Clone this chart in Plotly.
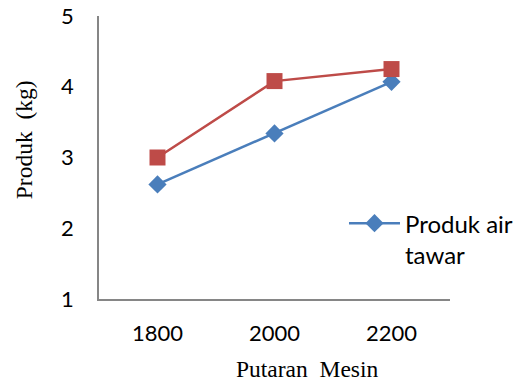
import plotly.graph_objects as go

# Engine speed categories and measured product (kg)
putaran = ["1800", "2000", "2200"]
produk_air_tawar = [2.62, 3.34, 4.07]
produk_kedua = [3.00, 4.08, 4.25]
y_ticks = [1, 2, 3, 4, 5]

BLUE = "#4A7EBB"
RED = "#BE4B48"
AXIS = "#868686"
TICK_FONT = dict(family="Lato", size=22, color="#000000")
LEGEND_FONT = dict(family="Lato", size=24, color="#000000")
TITLE_FONT = dict(family="Liberation Serif", size=23.5, color="#000000")

fig = go.Figure()

fig.add_trace(go.Scatter(
    x=putaran, y=produk_air_tawar, mode="lines+markers",
    name="Produk air<br>tawar",
    line=dict(color=BLUE, width=2.5),
    marker=dict(symbol="diamond", size=14, color=BLUE),
))
fig.add_trace(go.Scatter(
    x=putaran, y=produk_kedua, mode="lines+markers",
    showlegend=False,
    line=dict(color=RED, width=2.5),
    marker=dict(symbol="square", size=16, color=RED),
))

fig.update_layout(
    width=529, height=383,
    margin=dict(l=99, r=78, t=16, b=84),
    paper_bgcolor="white", plot_bgcolor="white",
    xaxis=dict(
        type="category", range=[-0.5, 2.5], automargin=False,
        showline=True, linecolor=AXIS, linewidth=1.5,
        showgrid=False, zeroline=False, ticks="",
        tickfont=TICK_FONT, ticklabelstandoff=14,
    ),
    yaxis=dict(
        range=[1, 5], tickvals=y_ticks, automargin=False,
        showline=True, linecolor=AXIS, linewidth=1.5,
        showgrid=False, zeroline=False, ticks="",
        tickfont=TICK_FONT, ticklabelstandoff=19,
    ),
    legend=dict(
        x=0.696, y=0.346, xanchor="left", yanchor="top",
        font=LEGEND_FONT, valign="top", bgcolor="rgba(0,0,0,0)",
        itemwidth=51, tracegroupgap=0,
    ),
    annotations=[
        dict(text="Putaran  Mesin", xref="paper", yref="paper",
             x=(308 - 99) / 352, y=-(369 - 299) / 283,
             xanchor="center", yanchor="middle", showarrow=False,
             font=TITLE_FONT),
        dict(text="Produk  (kg)", xref="paper", yref="paper",
             x=-(99 - 24) / 352, y=(299 - 140) / 283,
             xanchor="center", yanchor="middle", showarrow=False,
             textangle=-90, font=TITLE_FONT),
    ],
)

fig.write_html("out.html")
